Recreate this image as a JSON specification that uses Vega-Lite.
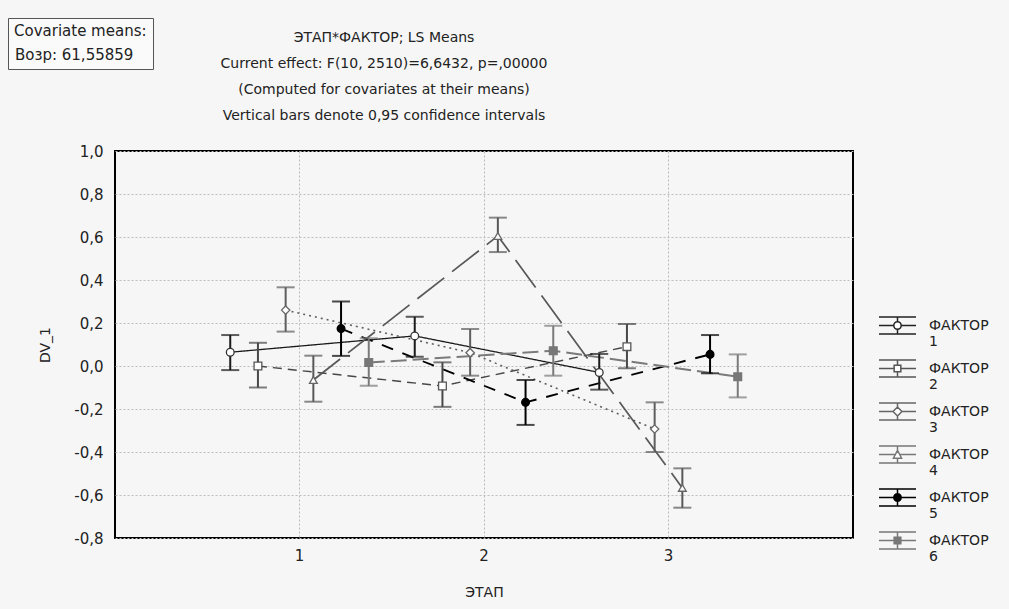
{
  "$schema": "https://vega.github.io/schema/vega-lite/v6.json",
  "width": 738,
  "height": 387,
  "autosize": {"type": "none"},
  "padding": {"left": 115, "top": 151, "right": 156, "bottom": 71},
  "background": "#f6f6f6",
  "config": {
    "font": "DejaVu Sans",
    "view": {"stroke": "#000000", "strokeWidth": 2, "fill": "#ffffff"},
    "axis": {
      "domain": false, "ticks": false, "grid": true,
      "gridColor": "#bdbdbd", "gridDash": [2, 2], "gridWidth": 1,
      "labelFont": "DejaVu Sans", "labelFontSize": 15, "labelColor": "#222222",
      "titleFont": "DejaVu Sans", "titleFontSize": 14, "titleFontWeight": "normal", "titleColor": "#222222"
    }
  },
  "title": {
    "text": ["ЭТАП*ФАКТОР; LS Means", "Current effect: F(10, 2510)=6,6432, p=,00000", "(Computed for covariates at their means)", "Vertical bars denote 0,95 confidence intervals"],
    "font": "DejaVu Sans", "fontSize": 14, "fontWeight": "normal", "color": "#222222",
    "lineHeight": 26, "anchor": "middle", "dx": -100, "offset": -105
  },
  "data": {"values": [
    {"etap": 1, "factor": 1, "mean": 0.064, "lo": -0.019, "hi": 0.144},
    {"etap": 2, "factor": 1, "mean": 0.14, "lo": 0.043, "hi": 0.229},
    {"etap": 3, "factor": 1, "mean": -0.03, "lo": -0.11, "hi": 0.056},
    {"etap": 1, "factor": 2, "mean": 0.0, "lo": -0.1, "hi": 0.108},
    {"etap": 2, "factor": 2, "mean": -0.093, "lo": -0.19, "hi": 0.017},
    {"etap": 3, "factor": 2, "mean": 0.09, "lo": -0.011, "hi": 0.195},
    {"etap": 1, "factor": 3, "mean": 0.26, "lo": 0.16, "hi": 0.366},
    {"etap": 2, "factor": 3, "mean": 0.062, "lo": -0.045, "hi": 0.172},
    {"etap": 3, "factor": 3, "mean": -0.293, "lo": -0.4, "hi": -0.169},
    {"etap": 1, "factor": 4, "mean": -0.065, "lo": -0.166, "hi": 0.048},
    {"etap": 2, "factor": 4, "mean": 0.605, "lo": 0.53, "hi": 0.69},
    {"etap": 3, "factor": 4, "mean": -0.567, "lo": -0.659, "hi": -0.476},
    {"etap": 1, "factor": 5, "mean": 0.174, "lo": 0.047, "hi": 0.3},
    {"etap": 2, "factor": 5, "mean": -0.169, "lo": -0.274, "hi": -0.065},
    {"etap": 3, "factor": 5, "mean": 0.054, "lo": -0.034, "hi": 0.144},
    {"etap": 1, "factor": 6, "mean": 0.016, "lo": -0.092, "hi": 0.129},
    {"etap": 2, "factor": 6, "mean": 0.071, "lo": -0.045, "hi": 0.187},
    {"etap": 3, "factor": 6, "mean": -0.05, "lo": -0.146, "hi": 0.054}
  ]},
  "layer": [
    {
      "encoding": {
        "x": {"field": "etap", "type": "ordinal", "scale": {"paddingInner": 0, "paddingOuter": 0.5},
              "axis": {"title": "ЭТАП", "labelAngle": 0, "bandPosition": 0.5, "labelPadding": 10, "titlePadding": 22}},
        "xOffset": {"field": "factor", "type": "nominal", "scale": {"paddingInner": 0, "paddingOuter": 0.33}}
      },
      "layer": [
        {
          "mark": {"type": "line"},
          "encoding": {
            "y": {"field": "mean", "type": "quantitative", "scale": {"domain": [-0.8, 1.0], "nice": false, "zero": false},
                  "axis": {"title": "DV_1", "values": [-0.8, -0.6, -0.4, -0.2, 0, 0.2, 0.4, 0.6, 0.8, 1.0],
                           "labelExpr": "(datum.value < -0.0001 ? '-' : '') + replace(format(abs(datum.value), '.1f'), '.', ',')",
                           "labelPadding": 12, "titlePadding": 21}},
            "color": {"field": "factor", "type": "nominal", "legend": null,
                      "scale": {"range": ["#1a1a1a", "#474747", "#5e5e5e", "#585858", "#000000", "#7a7a7a"]}},
            "strokeDash": {"field": "factor", "type": "nominal", "legend": null,
                           "scale": {"range": [[1, 0], [9, 6], [2, 4], [34, 10], [12, 10], [16, 6]]}},
            "strokeWidth": {"field": "factor", "type": "nominal", "legend": null,
                            "scale": {"range": [1.3, 2, 2.6, 3, 2.2, 1.6]}}
          }
        },
        {
          "mark": {"type": "rule", "strokeWidth": 2},
          "encoding": {
            "y": {"field": "lo", "type": "quantitative"},
            "y2": {"field": "hi"},
            "color": {"field": "factor", "type": "nominal", "legend": null}
          }
        },
        {
          "mark": {"type": "tick", "thickness": 2, "size": 18},
          "encoding": {
            "y": {"field": "lo", "type": "quantitative"},
            "color": {"field": "factor", "type": "nominal", "legend": null}
          }
        },
        {
          "mark": {"type": "tick", "thickness": 2, "size": 18},
          "encoding": {
            "y": {"field": "hi", "type": "quantitative"},
            "color": {"field": "factor", "type": "nominal", "legend": null}
          }
        },
        {
          "transform": [{"filter": {"field": "factor", "equal": 1}}],
          "mark": {"type": "point", "shape": "circle", "size": 60, "strokeWidth": 1.3, "opacity": 1, "fill": "#ffffff", "stroke": "#333333"},
          "encoding": {"y": {"field": "mean", "type": "quantitative"}}
        },
        {
          "transform": [{"filter": {"field": "factor", "equal": 2}}],
          "mark": {"type": "point", "shape": "square", "size": 60, "strokeWidth": 1.3, "opacity": 1, "fill": "#ffffff", "stroke": "#555555"},
          "encoding": {"y": {"field": "mean", "type": "quantitative"}}
        },
        {
          "transform": [{"filter": {"field": "factor", "equal": 3}}],
          "mark": {"type": "point", "shape": "diamond", "size": 70, "strokeWidth": 1.3, "opacity": 1, "fill": "#ffffff", "stroke": "#666666"},
          "encoding": {"y": {"field": "mean", "type": "quantitative"}}
        },
        {
          "transform": [{"filter": {"field": "factor", "equal": 4}}],
          "mark": {"type": "point", "shape": "triangle-up", "size": 60, "strokeWidth": 1.3, "opacity": 1, "fill": "#ffffff", "stroke": "#666666"},
          "encoding": {"y": {"field": "mean", "type": "quantitative"}}
        },
        {
          "transform": [{"filter": {"field": "factor", "equal": 5}}],
          "mark": {"type": "point", "shape": "circle", "size": 60, "strokeWidth": 1.3, "opacity": 1, "fill": "#000000", "stroke": "#000000"},
          "encoding": {"y": {"field": "mean", "type": "quantitative"}}
        },
        {
          "transform": [{"filter": {"field": "factor", "equal": 6}}],
          "mark": {"type": "point", "shape": "square", "size": 60, "strokeWidth": 1.3, "opacity": 1, "fill": "#777777", "stroke": "#777777"},
          "encoding": {"y": {"field": "mean", "type": "quantitative"}}
        }
      ]
    },
    {
      "transform": [{"filter": "false"}],
      "mark": {"type": "point", "strokeWidth": 1.5, "opacity": 1},
      "encoding": {
        "shape": {"field": "factor", "type": "nominal",
                  "scale": {"domain": [1, 2, 3, 4, 5, 6], "range": [
                    "M-1,-0.46H1M-1,0.46H1M0,-0.46V-0.2M0,0.2V0.46M-1,0H-0.2M0.2,0H1M0.2,0A0.2,0.2,0,1,1,-0.2,0A0.2,0.2,0,1,1,0.2,0Z",
                    "M-1,-0.46H1M-1,0.46H1M0,-0.46V-0.18M0,0.18V0.46M-1,0H-0.18M0.18,0H1M-0.18,-0.18H0.18V0.18H-0.18Z",
                    "M-1,-0.46H1M-1,0.46H1M0,-0.46V-0.24M0,0.24V0.46M-1,0H-0.24M0.24,0H1M0,-0.24L0.24,0L0,0.24L-0.24,0Z",
                    "M-1,-0.46H1M-1,0.46H1M0,-0.46V-0.22M0,0.2V0.46M-1,0H-0.15M0.15,0H1M0,-0.22L0.22,0.2H-0.22Z",
                    "M-1,-0.46H1M-1,0.46H1M0,-0.46V-0.2M0,0.2V0.46M-1,0H-0.2M0.2,0H1M0.2,0A0.2,0.2,0,1,1,-0.2,0A0.2,0.2,0,1,1,0.2,0Z",
                    "M-1,-0.46H1M-1,0.46H1M0,-0.46V-0.18M0,0.18V0.46M-1,0H-0.18M0.18,0H1M-0.18,-0.18H0.18V0.18H-0.18Z"
                  ]},
                  "legend": {"title": null, "orient": "none", "legendX": 763, "legendY": 155,
                             "symbolSize": 1369, "symbolStrokeWidth": 1.5,
                             "labelExpr": "['ФАКТОР', datum.label]", "labelFont": "DejaVu Sans", "labelFontSize": 14,
                             "labelColor": "#222222", "labelLineHeight": 22, "labelOffset": 12, "labelBaseline": "middle",
                             "rowPadding": 0}},
        "fill": {"field": "factor", "type": "nominal",
                 "scale": {"domain": [1, 2, 3, 4, 5, 6], "range": ["#ffffff", "#ffffff", "#ffffff", "#ffffff", "#000000", "#777777"]},
                 "legend": {"title": null, "orient": "none", "legendX": 763, "legendY": 155,
                             "symbolSize": 1369, "symbolStrokeWidth": 1.5,
                             "labelExpr": "['ФАКТОР', datum.label]", "labelFont": "DejaVu Sans", "labelFontSize": 14,
                             "labelColor": "#222222", "labelLineHeight": 22, "labelOffset": 12, "labelBaseline": "middle",
                             "rowPadding": 0}},
        "stroke": {"field": "factor", "type": "nominal",
                   "scale": {"domain": [1, 2, 3, 4, 5, 6], "range": ["#222222", "#555555", "#666666", "#777777", "#000000", "#777777"]},
                   "legend": {"title": null, "orient": "none", "legendX": 763, "legendY": 155,
                             "symbolSize": 1369, "symbolStrokeWidth": 1.5,
                             "labelExpr": "['ФАКТОР', datum.label]", "labelFont": "DejaVu Sans", "labelFontSize": 14,
                             "labelColor": "#222222", "labelLineHeight": 22, "labelOffset": 12, "labelBaseline": "middle",
                             "rowPadding": 0}}
      }
    },
    {
      "data": {"values": [{"covariate": "Возр: 61,55859"}]},
      "mark": {"type": "point", "size": 0},
      "encoding": {
        "opacity": {"field": "covariate", "type": "nominal", "scale": {"range": [0]},
                 "legend": {"title": "Covariate means:", "orient": "none", "legendX": -107, "legendY": -133,
                            "padding": 6, "strokeColor": "#555555", "fillColor": "#fafafa",
                            "titleFont": "DejaVu Sans", "titleFontSize": 15, "titleFontWeight": "normal", "titleColor": "#222222",
                            "titlePadding": 8, "labelFont": "DejaVu Sans", "labelFontSize": 15, "labelColor": "#222222",
                            "labelOffset": -14, "symbolSize": 1, "symbolStrokeWidth": 0}}
      }
    }
  ]
}
